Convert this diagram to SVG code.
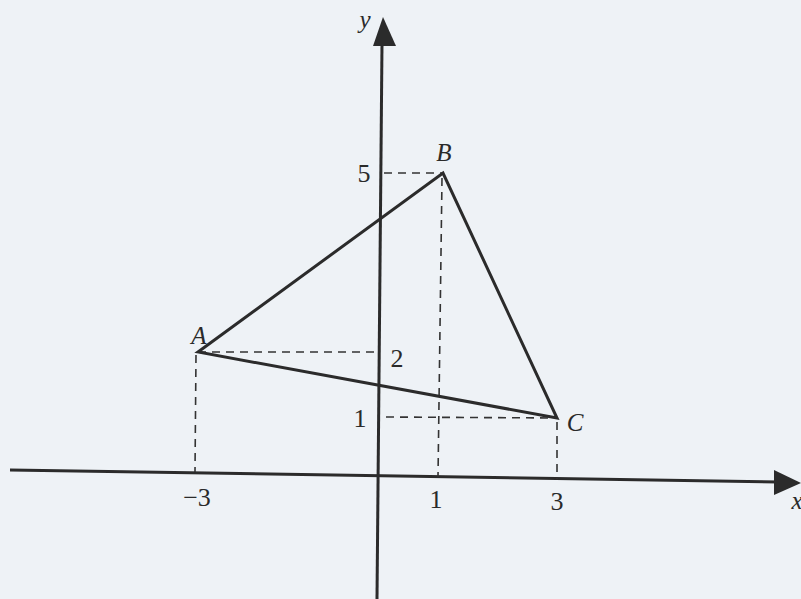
<svg xmlns="http://www.w3.org/2000/svg" width="801" height="599" viewBox="0 0 801 599">
<style>
.ax{stroke:#2b2b2b;stroke-width:3;fill:none}
.tri{stroke:#2b2b2b;stroke-width:3;fill:none;stroke-linejoin:miter}
.dash{stroke:#333;stroke-width:1.6;fill:none;stroke-dasharray:8,6}
.lbl{font-family:"Liberation Serif","DejaVu Serif",serif;font-style:italic;font-size:25px;fill:#2a2a2a}
.num{font-family:"Liberation Serif","DejaVu Serif",serif;font-size:26px;fill:#2a2a2a}
</style>
<rect width="801" height="599" fill="#eef2f6"/>
<g id="connectors">
<path class="ax" d="M10,470 L778,482"/>
<polygon points="774,470 801,483 774,495" fill="#2b2b2b"/>
<path class="ax" d="M382,44 L377,599"/>
<polygon points="373,46 383,17 396,46" fill="#2b2b2b"/>
<path class="dash" d="M198,352 L380,352"/>
<path class="dash" d="M196,355 L195,472"/>
<path class="dash" d="M384,173 L443,173"/>
<path class="dash" d="M442,178 L438,477"/>
<path class="dash" d="M386,417 L556,418"/>
<path class="dash" d="M557,422 L557,479"/>
</g>
<g id="triangle">
<path class="tri" d="M198,352 L443,173 L557,418 Z"/>
</g>
<g id="A"><text class="lbl" x="199" y="344" text-anchor="middle">A</text></g>
<g id="B"><text class="lbl" x="444" y="161" text-anchor="middle">B</text></g>
<g id="C"><text class="lbl" x="575" y="431" text-anchor="middle">C</text></g>
<g id="axislabels">
<text class="lbl" x="365" y="28" text-anchor="middle">y</text>
<text class="lbl" x="797" y="509" text-anchor="middle">x</text>
<text class="num" x="364" y="182" text-anchor="middle">5</text>
<text class="num" x="397" y="367" text-anchor="middle">2</text>
<text class="num" x="360" y="427" text-anchor="middle">1</text>
<text class="num" x="197" y="506" text-anchor="middle">−3</text>
<text class="num" x="436" y="508" text-anchor="middle">1</text>
<text class="num" x="557" y="510" text-anchor="middle">3</text>
</g>
</svg>
